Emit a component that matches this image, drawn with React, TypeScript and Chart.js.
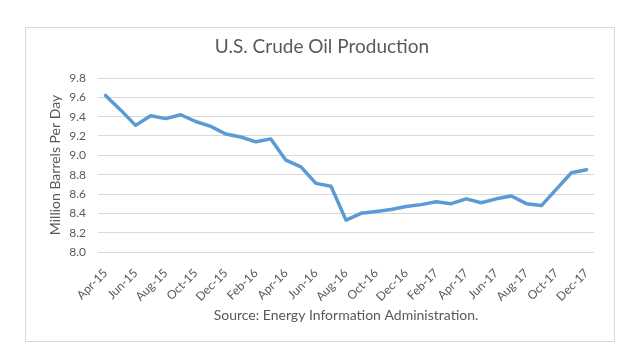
import React, { useEffect, useRef } from "react";
import { Chart, registerables } from "chart.js";

Chart.register(...registerables);

const months: string[] = [
  "Apr-15", "May-15", "Jun-15", "Jul-15", "Aug-15", "Sep-15", "Oct-15", "Nov-15", "Dec-15",
  "Jan-16", "Feb-16", "Mar-16", "Apr-16", "May-16", "Jun-16", "Jul-16", "Aug-16", "Sep-16",
  "Oct-16", "Nov-16", "Dec-16", "Jan-17", "Feb-17", "Mar-17", "Apr-17", "May-17", "Jun-17",
  "Jul-17", "Aug-17", "Sep-17", "Oct-17", "Nov-17", "Dec-17",
];

const production: number[] = [
  9.62, 9.47, 9.31, 9.41, 9.38, 9.42, 9.35, 9.30, 9.22,
  9.19, 9.14, 9.17, 8.95, 8.88, 8.71, 8.68, 8.33, 8.40,
  8.42, 8.44, 8.47, 8.49, 8.52, 8.50, 8.55, 8.51, 8.55,
  8.58, 8.50, 8.48, 8.65, 8.82, 8.85,
];

const titleText = "U.S. Crude Oil Production";
const yAxisTitle = "Million Barrels Per Day";
const sourceText = "Source: Energy Information Administration.";
const yMin = 8.0;
const yMax = 9.8;
const yStep = 0.2;

const FONT = "Lato, 'Open Sans', sans-serif";
const TEXT = "#595959";

const framePlugin = {
  id: "frameAndText",
  beforeDraw(chart: any) {
    const { ctx, width, height } = chart;
    ctx.save();
    ctx.fillStyle = "#ffffff";
    ctx.fillRect(0, 0, width, height);
    ctx.strokeStyle = "#d9d9d9";
    ctx.lineWidth = 1;
    ctx.strokeRect(25.5, 27.5, 589, 314);
    ctx.restore();
  },
  afterDraw(chart: any) {
    const { ctx, chartArea } = chart;
    ctx.save();
    ctx.fillStyle = TEXT;
    ctx.textAlign = "center";
    ctx.textBaseline = "middle";
    ctx.font = `19px ${FONT}`;
    ctx.fillText(titleText, 322, 47);
    ctx.font = `14px ${FONT}`;
    ctx.fillText(sourceText, (chartArea.left + chartArea.right) / 2, 315);
    ctx.restore();
  },
};

export default function App() {
  const ref = useRef<HTMLCanvasElement | null>(null);
  useEffect(() => {
    if (!ref.current) return;
    const chart = new Chart(ref.current, {
      type: "line",
      data: {
        labels: months,
        datasets: [
          {
            data: production,
            borderColor: "#5B9BD5",
            backgroundColor: "#5B9BD5",
            borderWidth: 3.5,
            pointRadius: 0,
            tension: 0,
            borderJoinStyle: "round",
            borderCapStyle: "round",
          },
        ],
      },
      options: {
        responsive: false,
        animation: false,
        layout: { padding: { top: 78, left: 0, right: 46, bottom: 52 } },
        plugins: {
          legend: { display: false },
          title: { display: false },
          tooltip: { enabled: false },
        },
        scales: {
          x: {
            offset: true,
            grid: { display: false },
            border: { display: false },
            afterFit: (s: any) => {
              s.height = 60;
            },
            ticks: {
              autoSkip: false,
              minRotation: 45,
              maxRotation: 45,
              padding: 6,
              color: TEXT,
              font: { family: FONT, size: 12 },
              callback: (_v: any, i: number) => (i % 2 === 0 ? months[i] : ""),
            },
          },
          y: {
            min: yMin,
            max: yMax,
            afterFit: (s: any) => {
              s.width = 98;
            },
            grid: { color: "#d9d9d9", lineWidth: 1, drawTicks: false },
            border: { display: false },
            ticks: {
              stepSize: yStep,
              padding: 12,
              color: TEXT,
              font: { family: FONT, size: 12 },
              callback: (v: any) => Number(v).toFixed(1),
            },
            title: {
              display: true,
              text: yAxisTitle,
              color: TEXT,
              font: { family: FONT, size: 14 },
              padding: { top: 47, bottom: 0 },
            },
          },
        },
      },
      plugins: [framePlugin],
    });
    return () => chart.destroy();
  }, []);
  return (
    <div style={{ position: "fixed", left: 0, top: 0, width: 640, height: 364, background: "#fff" }}>
      <canvas ref={ref} width={640} height={364} />
    </div>
  );
}
